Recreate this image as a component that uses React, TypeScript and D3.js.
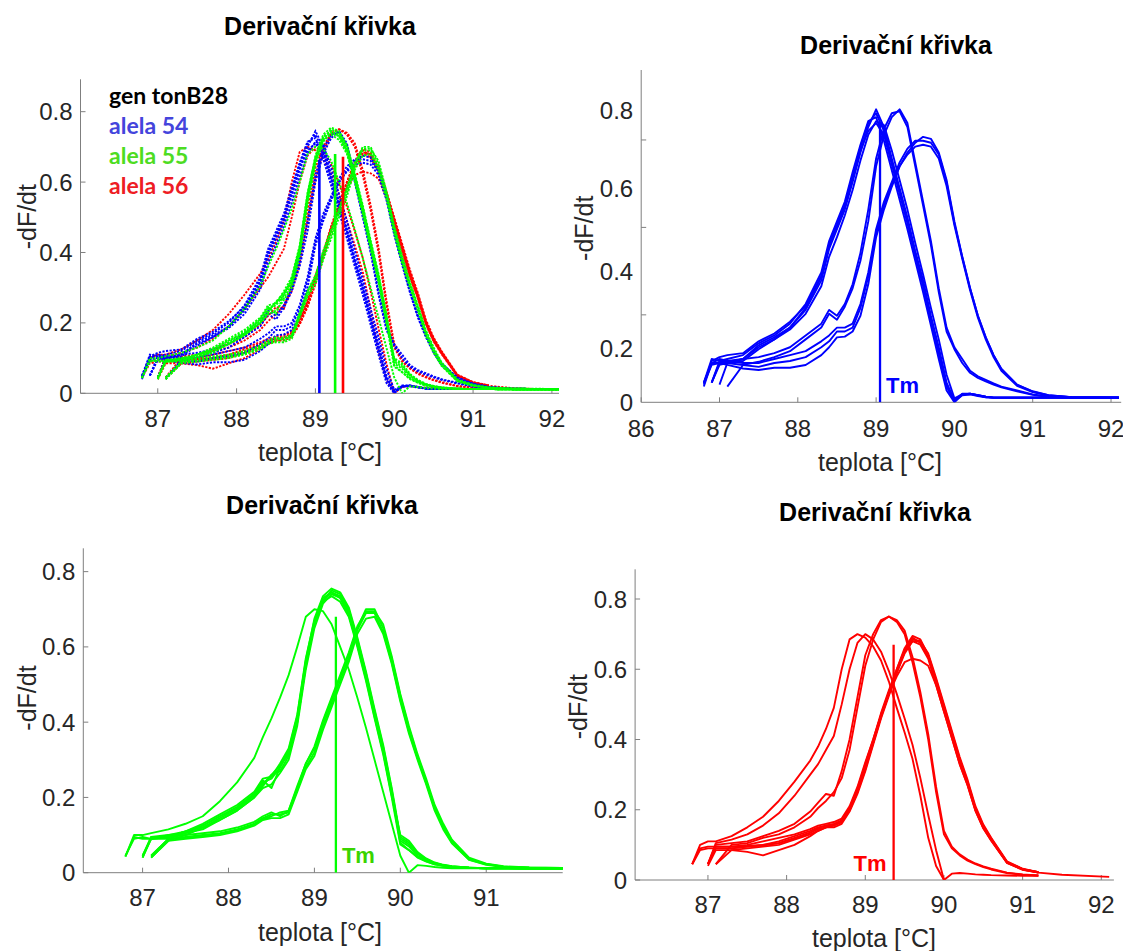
import React from "react";
import * as d3 from "d3";

const _ = null;

// Temperature grid shared by all melting (derivative) curves, °C
const TEMPERATURES = [
  86.8, 86.9, 87.0, 87.1, 87.3, 87.5, 87.7, 87.9, 88.1, 88.3,
  88.4, 88.5, 88.6, 88.7, 88.8, 88.9, 89.0, 89.1, 89.2, 89.3,
  89.4, 89.5, 89.6, 89.7, 89.8, 89.9, 90.0, 90.1, 90.2, 90.3,
  90.4, 90.5, 90.6, 90.8, 91.0, 91.2, 91.5, 92.1,
];

// alela 54 (blue) -dF/dt curves
const BLUE_CURVES: (number | null)[][] = [
  [0.04, 0.10, 0.10, 0.10, 0.11, 0.145, 0.165, 0.19, 0.235, 0.31,
   0.39, 0.44, 0.49, 0.56, 0.635, 0.70, 0.745, 0.70, 0.62, 0.545,
   0.47, 0.385, 0.31, 0.22, 0.14, 0.05, 0.005, 0.022, 0.022, 0.018,
   0.014, 0.012, 0.012, 0.012, 0.012, 0.012, 0.012, 0.012],
  [0.05, 0.11, 0.105, 0.11, 0.12, 0.15, 0.17, 0.20, 0.25, 0.33,
   0.41, 0.46, 0.51, 0.585, 0.655, 0.715, 0.725, 0.665, 0.59, 0.515,
   0.44, 0.36, 0.28, 0.195, 0.11, 0.03, 0.0, 0.02, 0.021, 0.017,
   0.013, 0.012, 0.012, 0.012, 0.012, 0.012, 0.012, 0.012],
  [_, 0.05, 0.095, 0.10, 0.105, 0.135, 0.16, 0.185, 0.225, 0.295,
   0.37, 0.42, 0.475, 0.54, 0.615, 0.68, 0.715, 0.705, 0.64, 0.565,
   0.49, 0.405, 0.325, 0.24, 0.16, 0.07, 0.01, 0.02, 0.022, 0.018,
   0.014, 0.012, 0.012, 0.012, 0.012, 0.012, 0.012, 0.012],
  [_, _, 0.045, 0.10, 0.11, 0.14, 0.16, 0.19, 0.24, 0.32,
   0.40, 0.45, 0.50, 0.57, 0.64, 0.69, 0.71, 0.68, 0.605, 0.53,
   0.455, 0.375, 0.295, 0.21, 0.13, 0.045, 0.004, 0.02, 0.022, 0.018,
   0.014, 0.012, 0.012, 0.012, 0.012, 0.012, 0.012, 0.012],
  [0.045, 0.105, 0.115, 0.12, 0.125, 0.155, 0.175, 0.205, 0.245, 0.32,
   0.40, 0.45, 0.50, 0.575, 0.65, 0.71, 0.735, 0.69, 0.61, 0.535,
   0.46, 0.375, 0.30, 0.21, 0.125, 0.04, 0.002, 0.018, 0.02, 0.016,
   0.013, 0.012, 0.012, 0.012, 0.012, 0.012, 0.012, 0.012],
  [_, _, _, 0.04, 0.095, 0.103, 0.115, 0.13, 0.16, 0.19,
   0.225, 0.21, 0.243, 0.29, 0.36, 0.46, 0.60, 0.68, 0.725, 0.745,
   0.71, 0.61, 0.51, 0.41, 0.29, 0.19, 0.14, 0.11, 0.08, 0.066,
   0.057, 0.048, 0.04, 0.03, 0.02, 0.014, 0.012, 0.012],
  [_, 0.05, 0.10, 0.105, 0.11, 0.115, 0.125, 0.14, 0.17, 0.20,
   0.235, 0.22, 0.25, 0.30, 0.38, 0.49, 0.62, 0.695, 0.735, 0.74,
   0.70, 0.60, 0.50, 0.40, 0.28, 0.18, 0.135, 0.10, 0.075, 0.062,
   0.053, 0.045, 0.038, 0.028, 0.019, 0.014, 0.012, 0.012],
  [0.048, 0.095, 0.10, 0.095, 0.086, 0.082, 0.088, 0.088, 0.095, 0.12,
   0.14, 0.165, 0.167, 0.18, 0.22, 0.30, 0.42, 0.49, 0.548, 0.60,
   0.635, 0.66, 0.675, 0.67, 0.635, 0.565, 0.46, 0.37, 0.29, 0.22,
   0.165, 0.12, 0.085, 0.045, 0.028, 0.018, 0.013, 0.012],
  [_, 0.05, 0.105, 0.10, 0.095, 0.09, 0.10, 0.105, 0.115, 0.14,
   0.155, 0.18, 0.18, 0.19, 0.24, 0.32, 0.43, 0.50, 0.555, 0.60,
   0.63, 0.65, 0.655, 0.65, 0.62, 0.55, 0.45, 0.365, 0.285, 0.215,
   0.16, 0.115, 0.08, 0.042, 0.026, 0.017, 0.013, 0.012],
  [0.05, 0.10, 0.11, 0.105, 0.10, 0.10, 0.11, 0.12, 0.13, 0.155,
   0.17, 0.19, 0.19, 0.20, 0.25, 0.33, 0.44, 0.51, 0.56, 0.61,
   0.645, 0.665, 0.665, 0.66, 0.63, 0.56, 0.455, 0.37, 0.29, 0.22,
   0.165, 0.12, 0.085, 0.044, 0.027, 0.018, 0.013, 0.012],
];

// alela 55 (green) -dF/dt curves
const GREEN_CURVES: (number | null)[][] = [
  [0.043, 0.10, 0.10, 0.105, 0.115, 0.13, 0.15, 0.19, 0.24, 0.305,
   0.36, 0.41, 0.465, 0.525, 0.60, 0.68, 0.70, 0.695, 0.66, 0.60,
   0.54, 0.465, 0.385, 0.30, 0.215, 0.13, 0.045, 0.0, 0.02, 0.018,
   0.015, 0.013, 0.012, 0.012, 0.012, 0.012, 0.011, 0.011],
  [0.043, 0.095, 0.09, 0.09, 0.095, 0.11, 0.12, 0.145, 0.17, 0.205,
   0.235, 0.26, 0.27, 0.31, 0.40, 0.55, 0.66, 0.72, 0.75, 0.74,
   0.70, 0.62, 0.53, 0.43, 0.335, 0.22, 0.09, 0.075, 0.05, 0.035,
   0.025, 0.02, 0.017, 0.013, 0.012, 0.012, 0.011, 0.011],
  [_, _, 0.04, 0.09, 0.10, 0.105, 0.125, 0.15, 0.175, 0.21,
   0.24, 0.25, 0.28, 0.32, 0.41, 0.56, 0.665, 0.725, 0.745, 0.735,
   0.695, 0.615, 0.525, 0.425, 0.33, 0.215, 0.085, 0.07, 0.045, 0.032,
   0.024, 0.019, 0.016, 0.013, 0.012, 0.012, 0.011, 0.011],
  [_, _, _, 0.04, 0.085, 0.10, 0.12, 0.14, 0.165, 0.20,
   0.225, 0.235, 0.265, 0.30, 0.39, 0.54, 0.65, 0.715, 0.74, 0.73,
   0.69, 0.61, 0.52, 0.42, 0.325, 0.21, 0.08, 0.06, 0.04, 0.03,
   0.022, 0.018, 0.015, 0.013, 0.012, 0.012, 0.011, 0.011],
  [_, _, 0.045, 0.095, 0.095, 0.11, 0.13, 0.155, 0.18, 0.215,
   0.25, 0.255, 0.29, 0.33, 0.42, 0.57, 0.67, 0.73, 0.745, 0.73,
   0.685, 0.605, 0.515, 0.415, 0.32, 0.205, 0.10, 0.085, 0.055, 0.038,
   0.027, 0.021, 0.017, 0.013, 0.012, 0.012, 0.011, 0.011],
  [0.045, 0.09, 0.095, 0.09, 0.09, 0.105, 0.115, 0.14, 0.165, 0.20,
   0.23, 0.26, 0.285, 0.315, 0.40, 0.55, 0.66, 0.72, 0.735, 0.72,
   0.68, 0.60, 0.51, 0.41, 0.315, 0.20, 0.075, 0.06, 0.042, 0.03,
   0.022, 0.018, 0.015, 0.013, 0.012, 0.012, 0.011, 0.011],
  [_, _, 0.04, 0.095, 0.10, 0.11, 0.125, 0.15, 0.17, 0.21,
   0.245, 0.225, 0.28, 0.325, 0.415, 0.565, 0.675, 0.735, 0.755, 0.745,
   0.705, 0.625, 0.535, 0.435, 0.34, 0.225, 0.095, 0.08, 0.052, 0.036,
   0.026, 0.02, 0.016, 0.013, 0.012, 0.012, 0.011, 0.011],
  [_, _, _, 0.045, 0.09, 0.095, 0.10, 0.105, 0.115, 0.13,
   0.145, 0.155, 0.155, 0.16, 0.22, 0.28, 0.32, 0.39, 0.45, 0.51,
   0.57, 0.645, 0.69, 0.69, 0.64, 0.56, 0.46, 0.375, 0.305, 0.24,
   0.17, 0.12, 0.08, 0.035, 0.022, 0.016, 0.013, 0.012],
  [_, _, 0.045, 0.09, 0.095, 0.10, 0.105, 0.11, 0.12, 0.135,
   0.15, 0.16, 0.15, 0.165, 0.225, 0.29, 0.33, 0.40, 0.46, 0.52,
   0.58, 0.65, 0.70, 0.70, 0.65, 0.57, 0.47, 0.385, 0.31, 0.245,
   0.175, 0.125, 0.085, 0.037, 0.023, 0.016, 0.013, 0.012],
  [_, _, _, 0.04, 0.085, 0.09, 0.095, 0.10, 0.11, 0.125,
   0.14, 0.145, 0.145, 0.155, 0.215, 0.275, 0.31, 0.38, 0.44, 0.50,
   0.56, 0.635, 0.675, 0.68, 0.635, 0.555, 0.455, 0.37, 0.30, 0.235,
   0.165, 0.115, 0.078, 0.034, 0.021, 0.015, 0.013, 0.012],
  [_, _, _, 0.045, 0.09, 0.092, 0.098, 0.103, 0.112, 0.128,
   0.142, 0.15, 0.16, 0.165, 0.23, 0.29, 0.335, 0.405, 0.465, 0.525,
   0.585, 0.655, 0.695, 0.695, 0.66, 0.575, 0.475, 0.39, 0.315, 0.25,
   0.18, 0.13, 0.088, 0.04, 0.024, 0.017, 0.014, 0.012],
];

// alela 56 (red) -dF/dt curves
const RED_CURVES: (number | null)[][] = [
  [0.045, 0.10, 0.11, 0.11, 0.125, 0.15, 0.18, 0.225, 0.28, 0.34,
   0.38, 0.43, 0.49, 0.60, 0.685, 0.70, 0.69, 0.665, 0.625, 0.565,
   0.49, 0.42, 0.345, 0.24, 0.12, 0.04, 0.0, _, _, _,
   _, _, _, _, _, _, _, _],
  [_, _, 0.045, 0.105, 0.115, 0.13, 0.155, 0.19, 0.24, 0.30,
   0.33, 0.37, 0.41, 0.50, 0.60, 0.675, 0.70, 0.685, 0.65, 0.595,
   0.53, 0.46, 0.385, 0.29, 0.185, 0.085, 0.0, 0.018, 0.02, 0.018,
   0.016, 0.015, 0.014, 0.013, 0.012, 0.012, _, _],
  [_, _, 0.045, 0.10, 0.105, 0.11, 0.125, 0.14, 0.16, 0.195,
   0.22, 0.245, 0.24, 0.31, 0.40, 0.52, 0.64, 0.70, 0.74, 0.75,
   0.735, 0.70, 0.62, 0.52, 0.40, 0.25, 0.13, 0.09, 0.07, 0.055,
   0.045, 0.037, 0.03, 0.02, 0.015, 0.013, _, _],
  [_, _, _, 0.045, 0.10, 0.105, 0.12, 0.13, 0.15, 0.18,
   0.205, 0.225, 0.25, 0.29, 0.37, 0.49, 0.61, 0.685, 0.735, 0.75,
   0.74, 0.71, 0.635, 0.535, 0.415, 0.265, 0.14, 0.095, 0.073, 0.058,
   0.047, 0.039, 0.032, 0.021, 0.016, 0.013, _, _],
  [0.045, 0.09, 0.095, 0.095, 0.095, 0.097, 0.10, 0.11, 0.125, 0.14,
   0.15, 0.155, 0.16, 0.17, 0.205, 0.26, 0.33, 0.40, 0.475, 0.54,
   0.60, 0.655, 0.69, 0.675, 0.635, 0.56, 0.485, 0.41, 0.335, 0.275,
   0.20, 0.15, 0.115, 0.05, 0.03, 0.022, _, _],
  [_, _, 0.045, 0.09, 0.09, 0.095, 0.10, 0.105, 0.12, 0.135,
   0.145, 0.15, 0.155, 0.165, 0.20, 0.25, 0.32, 0.39, 0.465, 0.53,
   0.595, 0.65, 0.685, 0.68, 0.64, 0.57, 0.495, 0.42, 0.345, 0.28,
   0.205, 0.155, 0.118, 0.052, 0.031, 0.022, _, _],
  [_, _, _, 0.045, 0.085, 0.09, 0.095, 0.10, 0.115, 0.13,
   0.14, 0.15, 0.15, 0.16, 0.195, 0.245, 0.31, 0.385, 0.46, 0.525,
   0.59, 0.645, 0.68, 0.68, 0.645, 0.575, 0.50, 0.425, 0.35, 0.285,
   0.21, 0.158, 0.12, 0.053, 0.032, 0.022, _, _],
  [_, _, 0.045, 0.095, 0.095, 0.10, 0.11, 0.12, 0.13, 0.145,
   0.155, 0.16, 0.165, 0.175, 0.21, 0.265, 0.335, 0.40, 0.47, 0.53,
   0.58, 0.62, 0.63, 0.625, 0.61, 0.555, 0.48, 0.405, 0.33, 0.27,
   0.198, 0.148, 0.112, 0.049, 0.03, 0.021, 0.015, 0.009],
  [0.045, 0.085, 0.09, 0.09, 0.09, 0.095, 0.098, 0.105, 0.118, 0.135,
   0.148, 0.155, 0.158, 0.168, 0.20, 0.255, 0.325, 0.395, 0.47, 0.535,
   0.60, 0.66, 0.695, 0.685, 0.64, 0.565, 0.49, 0.415, 0.34, 0.278,
   0.203, 0.152, 0.117, 0.051, 0.031, 0.022, _, _],
  [_, _, 0.04, 0.085, 0.085, 0.08, 0.07, 0.085, 0.10, 0.125,
   0.14, 0.15, 0.157, 0.165, 0.198, 0.25, 0.315, 0.39, 0.465, 0.53,
   0.59, 0.65, 0.68, 0.67, 0.63, 0.555, 0.48, 0.405, 0.33, 0.27,
   0.197, 0.147, 0.113, 0.049, 0.029, 0.021, _, _],
];

// Tm markers: [blue, green, red]
const TM_TEMPERATURE_OVERLAY = [89.05, 89.25, 89.35];
const TM_HEIGHT_OVERLAY = [0.663, 0.68, 0.672];
const TM_TEMPERATURE_SINGLE = [89.05, 89.25, 89.36];
const TM_HEIGHT_SINGLE = [0.71, 0.68, 0.67];

const X_TICKS_A = [87, 88, 89, 90, 91, 92];
const X_TICKS_B = [86, 87, 88, 89, 90, 91, 92];
const X_TICKS_C = [87, 88, 89, 90, 91];
const Y_TICKS = [0, 0.2, 0.4, 0.6, 0.8];
const Y_TICK_MARKS_B = [0.2, 0.4, 0.6];
// relabelled axis of the blue panel: label placement as fraction of axis height
const Y_LABEL_FRACTIONS_B = [0, 0.1625, 0.393, 0.644, 0.8785];

const LEGEND_LABELS = ["gen tonB28", "alela 54", "alela 55", "alela 56"];
const LEGEND_COLORS = ["#000000", "#4444dc", "#4ddc22", "#ee1c24"];

const TITLE = "Derivační křivka";
const X_LABEL = "teplota [°C]";
const Y_LABEL = "-dF/dt";

const BLUE = "#0000ff";
const GREEN = "#00ff00";
const RED = "#ff0000";
const AXIS = "#7f7f7f";
const TXT = "#262626";
const FONT = "'Liberation Sans', Arial, Helvetica, sans-serif";

type Cfg = {
  id: string;
  left: number; right: number; top: number; bottom: number;
  xDomain: [number, number]; yDomain: [number, number];
  xTicks: number[];
  titleX: number; titleY: number;
  xLabelX: number; xLabelY: number;
  yLabelX: number; yLabelY: number;
  tickLabelY: number;
};

function curvePath(x: d3.ScaleLinear<number, number>, y: d3.ScaleLinear<number, number>, vals: (number | null)[]) {
  const gen = d3
    .line<number | null>()
    .defined((v) => v !== null)
    .x((_v, i) => x(TEMPERATURES[i]))
    .y((v) => y(v as number));
  return gen(vals) || "";
}

function Frame({ cfg, x, y, yLabelScale, yTickMarkScale, yTickMarks }: any) {
  const ly = yLabelScale || y;
  const ty = yTickMarkScale || y;
  const marks: number[] = yTickMarks || Y_TICKS;
  return (
    <g>
      <line x1={cfg.left} x2={cfg.left} y1={cfg.top} y2={cfg.bottom} stroke={AXIS} strokeWidth={1} />
      <line x1={cfg.left} x2={cfg.right} y1={cfg.bottom} y2={cfg.bottom} stroke={AXIS} strokeWidth={1} />
      {cfg.xTicks.map((t: number) => (
        <g key={"xt" + t}>
          <line x1={x(t)} x2={x(t)} y1={cfg.bottom} y2={cfg.bottom - 5} stroke={AXIS} strokeWidth={1} />
          <text x={x(t)} y={cfg.tickLabelY} textAnchor="middle" dominantBaseline="central"
            fontFamily={FONT} fontSize={24} fill={TXT}>{t}</text>
        </g>
      ))}
      {marks.map((t: number) => (
        <line key={"ym" + t} x1={cfg.left} x2={cfg.left + 5} y1={ty(t)} y2={ty(t)} stroke={AXIS} strokeWidth={1} />
      ))}
      {Y_TICKS.map((t) => (
        <text key={"yl" + t} x={cfg.left - 8} y={ly(t)} textAnchor="end" dominantBaseline="central"
          fontFamily={FONT} fontSize={24} fill={TXT}>{t === 0 ? "0" : t.toFixed(1)}</text>
      ))}
      <text x={cfg.titleX} y={cfg.titleY} textAnchor="middle" dominantBaseline="central"
        fontFamily={FONT} fontSize={25} fontWeight="bold" fill="#000">{TITLE}</text>
      <text x={cfg.xLabelX} y={cfg.xLabelY} textAnchor="middle" dominantBaseline="central"
        fontFamily={FONT} fontSize={25} fill={TXT}>{X_LABEL}</text>
      <text transform={`translate(${cfg.yLabelX},${cfg.yLabelY}) rotate(-90)`} textAnchor="middle"
        dominantBaseline="central" fontFamily={FONT} fontSize={25} fill={TXT}>{Y_LABEL}</text>
    </g>
  );
}

function scalesFor(cfg: Cfg) {
  const x = d3.scaleLinear().domain(cfg.xDomain).range([cfg.left, cfg.right]);
  const y = d3.scaleLinear().domain(cfg.yDomain).range([cfg.bottom, cfg.top]);
  return { x, y };
}

function ClipDef({ cfg }: { cfg: Cfg }) {
  return (
    <clipPath id={cfg.id}>
      <rect x={cfg.left} y={cfg.top - 10} width={cfg.right - cfg.left} height={cfg.bottom - cfg.top + 10} />
    </clipPath>
  );
}

const P1: Cfg = {
  id: "clip-overlay", left: 80.5, right: 559, top: 79.3, bottom: 393.3,
  xDomain: [86.02, 92.09], yDomain: [0, 0.892], xTicks: X_TICKS_A,
  titleX: 320, titleY: 26, xLabelX: 320, xLabelY: 452, yLabelX: 27, yLabelY: 216.7, tickLabelY: 418,
};
const P2: Cfg = {
  id: "clip-blue", left: 641.2, right: 1121.2, top: 70, bottom: 402.3,
  xDomain: [86, 92.13], yDomain: [0, 0.845], xTicks: X_TICKS_B,
  titleX: 896, titleY: 45, xLabelX: 880, xLabelY: 462, yLabelX: 584, yLabelY: 228.3, tickLabelY: 428.3,
};
const P3: Cfg = {
  id: "clip-green", left: 83.3, right: 562.7, top: 548.3, bottom: 872.7,
  xDomain: [86.31, 91.89], yDomain: [0, 0.862], xTicks: X_TICKS_C,
  titleX: 322, titleY: 505, xLabelX: 320, xLabelY: 932, yLabelX: 27, yLabelY: 698, tickLabelY: 897,
};
const P4: Cfg = {
  id: "clip-red", left: 635.1, right: 1113.9, top: 569.3, bottom: 880,
  xDomain: [86.074, 92.16], yDomain: [0, 0.8846], xTicks: X_TICKS_A,
  titleX: 875, titleY: 512, xLabelX: 874, xLabelY: 938, yLabelX: 578, yLabelY: 706.7, tickLabelY: 904,
};

function OverlayPanel() {
  const { x, y } = scalesFor(P1);
  const groups: [string, (number | null)[][]][] = [[RED, RED_CURVES], [BLUE, BLUE_CURVES], [GREEN, GREEN_CURVES]];
  const tmColors = [BLUE, GREEN, RED];
  return (
    <g>
      <Frame cfg={P1} x={x} y={y} />
      <g clipPath={`url(#${P1.id})`}>
        {groups.map(([c, curves], gi) =>
          curves.map((vals, i) => (
            <path key={gi + "-" + i} d={curvePath(x, y, vals)} fill="none" stroke={c}
              strokeWidth={1.9} strokeDasharray="2.2,1.4" />
          ))
        )}
        {TM_TEMPERATURE_OVERLAY.map((t, i) => (
          <line key={"tm" + i} x1={x(t)} x2={x(t)} y1={y(0)} y2={y(TM_HEIGHT_OVERLAY[i])}
            stroke={tmColors[i]} strokeWidth={2.6} />
        ))}
      </g>
      {LEGEND_LABELS.map((l, i) => (
        <text key={l} x={109} y={95 + i * 30} dominantBaseline="central" fontFamily="Lato, 'Open Sans', sans-serif"
          fontWeight="bold" fontSize={23} fill={LEGEND_COLORS[i]}>{l}</text>
      ))}
    </g>
  );
}

function SinglePanel({ cfg, curves, color, tmIndex, tmTextColor, tmAnchor, yLabelScale, yTickMarkScale, yTickMarks }: any) {
  const { x, y } = scalesFor(cfg);
  const tx = x(TM_TEMPERATURE_SINGLE[tmIndex]);
  return (
    <g>
      <Frame cfg={cfg} x={x} y={y} yLabelScale={yLabelScale} yTickMarkScale={yTickMarkScale} yTickMarks={yTickMarks} />
      <g clipPath={`url(#${cfg.id})`}>
        {curves.map((vals: (number | null)[], i: number) => (
          <path key={i} d={curvePath(x, y, vals)} fill="none" stroke={color} strokeWidth={1.9}
            strokeLinejoin="round" />
        ))}
        <line x1={tx} x2={tx} y1={y(0)} y2={y(TM_HEIGHT_SINGLE[tmIndex])} stroke={color} strokeWidth={2.3} />
      </g>
      <text x={tmAnchor === "end" ? tx - 7 : tx + 6} y={cfg.bottom - 17} textAnchor={tmAnchor}
        dominantBaseline="central" fontFamily={FONT} fontWeight="bold" fontSize={22} fill={tmTextColor}>Tm</text>
    </g>
  );
}

export default function App() {
  const axisHeightB = d3.scaleLinear().domain([0, 1]).range([P2.bottom, P2.top]);
  const labelScaleB = d3
    .scaleLinear()
    .domain(Y_TICKS)
    .range(Y_LABEL_FRACTIONS_B.map((f) => axisHeightB(f)));
  const tickMarkScaleB = d3.scaleLinear().domain([0, 0.76]).range([P2.bottom, P2.top]);
  return (
    <div style={{ position: "absolute", left: 0, top: 0 }}>
      <svg width={1123} height={951} viewBox="0 0 1123 951" style={{ display: "block", background: "#fff" }}>
        <defs>
          <ClipDef cfg={P1} />
          <ClipDef cfg={P2} />
          <ClipDef cfg={P3} />
          <ClipDef cfg={P4} />
        </defs>
        <rect x={0} y={0} width={1123} height={951} fill="#fff" />
        <OverlayPanel />
        <SinglePanel cfg={P2} curves={BLUE_CURVES} color={BLUE} tmIndex={0} tmTextColor={BLUE} tmAnchor="start"
          yLabelScale={labelScaleB} yTickMarkScale={tickMarkScaleB} yTickMarks={Y_TICK_MARKS_B} />
        <SinglePanel cfg={P3} curves={GREEN_CURVES} color={GREEN} tmIndex={1} tmTextColor="#3ad400" tmAnchor="start" />
        <SinglePanel cfg={P4} curves={RED_CURVES} color={RED} tmIndex={2} tmTextColor={RED} tmAnchor="end" />
      </svg>
    </div>
  );
}
